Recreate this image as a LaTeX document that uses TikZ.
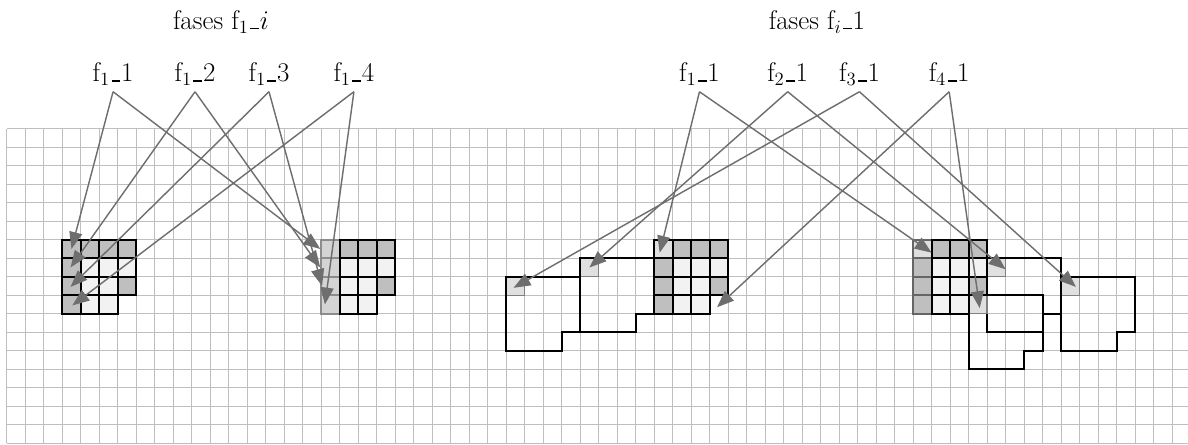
\documentclass[tikz,border=0pt]{standalone}
\usetikzlibrary{arrows.meta,positioning}
\newcommand{\usc}{\kern.06em\rule{.33em}{1pt}\kern.5pt}
\newcommand{\fname}[2]{f$_{#1}$\usc#2}
\begin{document}
\begin{tikzpicture}[x=0.5cm, y=0.5cm,
    gridline/.style={draw=black!25, line width=0.9pt},
    cellgray/.style={fill=black!25, draw=black, line width=1.4pt},
    celllight/.style={fill=black!5, draw=black, line width=1.4pt},
    cellhalo/.style={fill=black!12, draw=black!50, line width=1pt},
    boxline/.style={draw=black, line width=1.4pt},
    lbl/.style={font=\huge, inner sep=4.5pt},
    ttl/.style={font=\huge},
    fleche/.style={draw=black!57, line width=1.1pt, -{Triangle[length=13pt,width=10pt]}}
  ]
  \useasboundingbox (-0.362,-0.092) rectangle (63.86,23.96);

  % background grid
  \draw[gridline, step=0.5cm] (0,0) grid (63.86,17);

  % shaded blocks: first column
  \foreach \bx/\cf/\cd in {3/black!25/black, 17/black!17/black!45, 35/black!25/black, 49/black!25/black!60}{
    \foreach \j in {0,...,3}
      \draw[fill=\cf, draw=\cd, line width=1.2pt] (\bx,11-\j) rectangle ++(1,-1);
  }
  \draw[fill=black!12, draw=black, line width=1.4pt] (35,11) rectangle ++(1,-1);
  \draw[fill=black!12, draw=black!60, line width=1.2pt] (49,11) rectangle ++(1,-1);

  % shaded blocks: other cells
  \foreach \bx in {3,17,35,49}{
    \foreach \i/\j in {1/0,2/0,3/0,3/2}
      \draw[cellgray] (\bx+\i,11-\j) rectangle ++(1,-1);
    \foreach \i/\j in {1/1,2/1,3/1,1/2,2/2,1/3,2/3}
      \draw[celllight] (\bx+\i,11-\j) rectangle ++(1,-1);
  }

  % outlined boxes
  \foreach \bx/\by in {27/9, 31/10, 53/10, 52/8, 57/9}{
    \draw[cellhalo] (\bx,\by) rectangle ++(1,-1);
    \draw[boxline] (\bx,\by) -- ++(4,0) -- ++(0,-3) -- ++(-1,0) -- ++(0,-1) -- ++(-3,0) -- cycle;
  }

  % titles
  \node[ttl, anchor=base] (ttlA) at (11.58,22.38) {fases \fname{1}{$i$}};
  \node[ttl, anchor=base] (ttlB) at (43.8,22.38) {fases \fname{i}{1}};

  % labels
  \node[lbl, anchor=base] (a1) at (5.75,19.55) {\fname{1}{1}};
  \node[lbl, anchor=base] (a2) at (10.18,19.55) {\fname{1}{2}};
  \node[lbl, anchor=base] (a3) at (14.18,19.55) {\fname{1}{3}};
  \node[lbl, anchor=base] (a4) at (18.77,19.55) {\fname{1}{4}};
  \node[lbl, anchor=base] (b1) at (37.45,19.55) {\fname{1}{1}};
  \node[lbl, anchor=base] (b2) at (42.22,19.55) {\fname{2}{1}};
  \node[lbl, anchor=base] (b3) at (46.1,19.55) {\fname{3}{1}};
  \node[lbl, anchor=base] (b4) at (50.95,19.55) {\fname{4}{1}};

  % arrow targets
  \coordinate (p1) at (3.5,10.5);
  \coordinate (p2) at (3.45,9.5);
  \coordinate (p3) at (3.45,8.45);
  \coordinate (p4) at (3.55,7.45);
  \coordinate (q1) at (16.95,10.5);
  \coordinate (q2) at (16.95,9.5);
  \coordinate (q3) at (17.05,8.5);
  \coordinate (q4) at (17.2,7.5);
  \coordinate (tC) at (35.3,10.3);
  \coordinate (tD) at (50.0,10.3);
  \coordinate (tB) at (31.5,9.5);
  \coordinate (tE) at (54.0,9.4);
  \coordinate (tA) at (27.4,8.4);
  \coordinate (tG) at (57.8,8.45);
  \coordinate (tc) at (38.4,7.35);
  \coordinate (tF) at (52.6,7.3);

  % arrows
  \foreach \s/\u/\v in {a1/p1/q1, a2/p2/q2, a3/p3/q3, a4/p4/q4,
                        b1/tC/tD, b2/tB/tE, b3/tA/tG, b4/tc/tF}{
    \draw[fleche] (\s.south) -- (\u);
    \draw[fleche] (\s.south) -- (\v);
  }
\end{tikzpicture}
\end{document}
